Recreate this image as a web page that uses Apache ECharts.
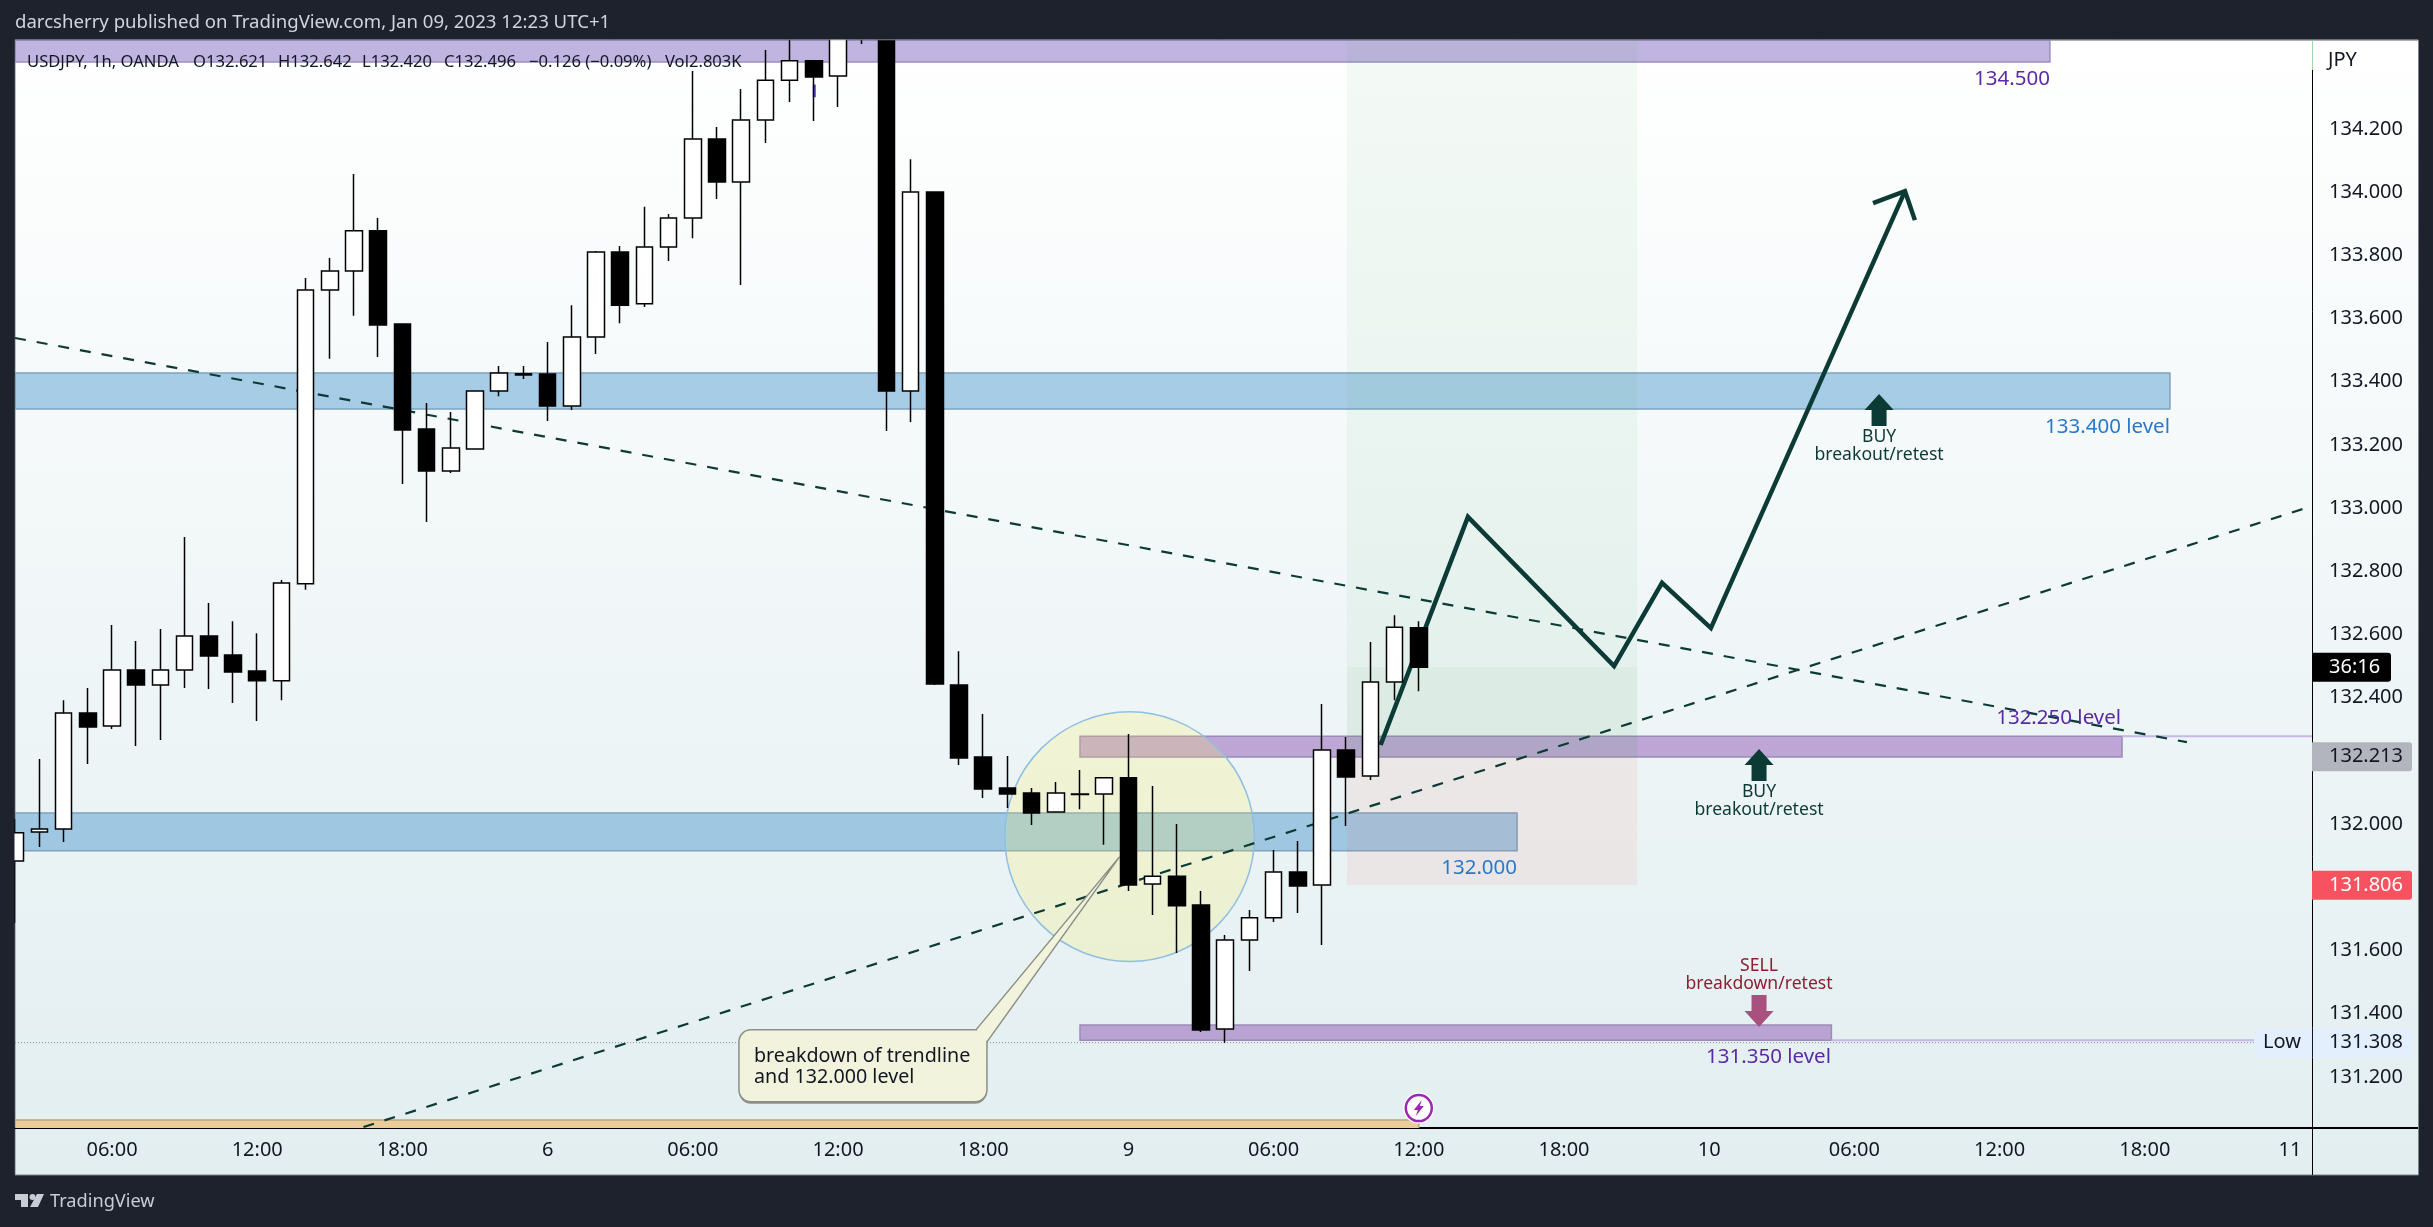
<!DOCTYPE html>
<html>
<head>
<meta charset="utf-8">
<title>USDJPY 1h</title>
<script src="https://cdn.jsdelivr.net/npm/echarts@6/dist/echarts.min.js"></script>
<style>
    html, body { margin: 0; padding: 0; background: #1e222d; }
    #chart { width: 2433px; height: 1227px; }
</style>
</head>
<body>
<div id="chart"></div>
<script>
// candles, one per hour, x is the bar number counted from Jan 5 00:00
const firstBar = 2;
const opens = [131.883, 131.975, 131.984, 132.351, 132.310, 132.487, 132.440, 132.487, 132.595, 132.535, 132.484, 132.453, 132.760, 133.690, 133.750, 133.877, 133.582, 133.250, 133.117, 133.187, 133.370, 133.425, 133.424, 133.323, 133.541, 133.810, 133.646, 133.826, 133.918, 134.168, 134.032, 134.228, 134.354, 134.415, 134.367, 134.600, 134.580, 133.370, 134.000, 132.440, 132.212, 132.114, 132.098, 132.038, 132.095, 132.095, 132.146, 131.810, 131.835, 131.744, 131.351, 131.633, 131.703, 131.848, 131.807, 132.234, 132.152, 132.449, 132.621];
const closes = [131.972, 131.984, 132.351, 132.307, 132.487, 132.440, 132.487, 132.595, 132.532, 132.481, 132.453, 132.763, 133.690, 133.750, 133.877, 133.579, 133.247, 133.117, 133.190, 133.370, 133.427, 133.421, 133.323, 133.541, 133.810, 133.642, 133.826, 133.918, 134.168, 134.032, 134.228, 134.354, 134.415, 134.364, 134.540, 134.540, 133.370, 134.000, 132.443, 132.209, 132.111, 132.095, 132.035, 132.098, 132.093, 132.146, 131.807, 131.835, 131.741, 131.348, 131.633, 131.703, 131.848, 131.804, 132.234, 132.149, 132.449, 132.623, 132.496];
const lows = [131.687, 131.927, 131.943, 132.190, 132.301, 132.247, 132.266, 132.430, 132.427, 132.383, 132.326, 132.392, 132.741, 133.472, 133.608, 133.478, 133.076, 132.956, 133.111, 133.187, 133.354, 133.408, 133.275, 133.310, 133.487, 133.585, 133.636, 133.782, 133.854, 133.978, 133.706, 134.155, 134.285, 134.225, 134.269, 134.468, 133.244, 133.272, 132.440, 132.187, 132.082, 132.051, 131.997, 132.038, 132.047, 131.934, 131.788, 131.712, 131.592, 131.342, 131.308, 131.535, 131.690, 131.718, 131.617, 131.994, 132.139, 132.392, 132.420];
const highs = [132.016, 132.206, 132.392, 132.430, 132.630, 132.579, 132.617, 132.908, 132.699, 132.642, 132.604, 132.772, 133.728, 133.791, 134.057, 133.918, 133.582, 133.332, 133.304, 133.373, 133.449, 133.449, 133.525, 133.642, 133.813, 133.829, 133.953, 133.930, 134.383, 134.206, 134.326, 134.449, 134.500, 134.418, 134.600, 134.660, 134.600, 134.104, 134.000, 132.547, 132.348, 132.215, 132.114, 132.133, 132.171, 132.149, 132.285, 132.120, 132.000, 131.788, 131.649, 131.728, 131.918, 131.946, 132.380, 132.275, 132.576, 132.661, 132.642];

// axes
const xMin = 1.99;
const xMax = 96.91;
const yMin = 131.038;
const yMax = 134.481;
const xTickValues = [6, 12, 18, 24, 30, 36, 42, 48, 54, 60, 66, 72, 78, 84, 90, 96];
const xTickLabels = ['06:00', '12:00', '18:00', '6', '06:00', '12:00', '18:00', '9', '06:00', '12:00', '18:00', '10', '06:00', '12:00', '18:00', '11'];
const yTickValues = [131.2, 131.4, 131.6, 132.0, 132.4, 132.6, 132.8, 133.0, 133.2, 133.4, 133.6, 133.8, 134.0, 134.2];

// drawings on the chart: [barFrom, barTo, priceTop, priceBottom]
const blueZones = [[xMin, 91.04, 133.427, 133.313], [xMin, 64.06, 132.035, 131.915]];
const topZones = [[xMin, 86.08, 134.500, 134.411]];
const lowerZones = [[46.0, 89.06, 132.278, 132.212], [46.0, 77.05, 131.364, 131.316]];
const orangeZones = [[xMin, 60.0, 131.063, 131.030]];
const profitZones = [[57.03, 69.02, 134.481, 132.212]];
const entryZones = [[57.03, 69.02, 132.496, 132.212]];
const stopZones = [[57.03, 69.02, 132.212, 131.807]];
// [barFrom, barTo, price]
const thinLevels = [[89.06, xMax, 132.278], [77.05, 94.51, 131.316]];
const lowLine = [[xMin, 94.51, 131.308]];
// [bar, price]
const fallingTrend = [[1.99, 133.538], [91.74, 132.259]];
const risingTrend = [[16.39, 131.041], [96.91, 133.006]];
const forecastPath = [[58.42, 132.250], [62.03, 132.972], [68.07, 132.500], [70.05, 132.763], [72.07, 132.620], [80.09, 134.003]];
const forecastHead = [[78.77, 133.965], [80.09, 134.003], [80.50, 133.911]];
const circleCentre = [48.05, 131.960];
const circleRadiusBars = 5.157;
const calloutTip = [47.63, 131.896];
const iconPoint = [60.0, 131.101];
const smallMark = [[35.02, 134.340], [35.02, 134.300]];
// [text, bar, price]
const purpleLabels = [['134.500', 86.08, 134.358], ['132.250 level', 89.02, 132.335], ['131.350 level', 77.03, 131.263]];
const blueLabels = [['133.400 level', 91.04, 133.256], ['132.000', 64.06, 131.861]];
// [bar, price of the arrow tip]
const buyArrows = [[74.06, 132.237], [79.02, 133.361]];
const sellArrows = [[74.06, 131.358]];

const calloutLines = ['breakdown of trendline', 'and 132.000 level'];
const titleText = 'darcsherry published on TradingView.com, Jan 09, 2023 12:23 UTC+1';
const legendParts = ['USDJPY, 1h, OANDA', 'O132.621', 'H132.642', 'L132.420', 'C132.496', '\u22120.126 (\u22120.09%)', 'Vol2.803K'];

const clockPrice = 132.496;
const clockText = '36:16';
const prevClose = 132.213;
const lastPrice = 131.806;
const lowPrice = 131.308;

const FONT = '"Noto Sans", sans-serif';
const INK = '#131722';
const DARK_GREEN = '#0c3b36';
const FRAME = '#1e222d';
const LEGEND_X = [27, 193, 278, 362, 444, 529, 665];

let chart = echarts.init(document.getElementById('chart'));

// every layer gets its rows through the same small wrapper
function layer(rows, z, draw, clip) {
    return {
        type: 'custom',
        coordinateSystem: 'cartesian2d',
        clip: clip !== false,
        z: z,
        silent: true,
        data: rows.map((r, i) => [i]),
        encode: {},
        renderItem: function (params, api) {
            return draw(rows[params.dataIndex], api);
        }
    };
}

function zoneLayer(rows, z, fill, stroke) {
    return layer(rows, z, function (r, api) {
        let a = api.coord([r[0], r[2]]);
        let b = api.coord([r[1], r[3]]);
        return {
            type: 'rect',
            shape: { x: a[0], y: a[1], width: b[0] - a[0], height: b[1] - a[1] },
            style: { fill: fill, stroke: stroke, lineWidth: stroke ? 1.5 : 0 }
        };
    });
}

function levelLayer(rows, z, color, width, dash) {
    return layer(rows, z, function (r, api) {
        let a = api.coord([r[0], r[2]]);
        let b = api.coord([r[1], r[2]]);
        return {
            type: 'line',
            shape: { x1: a[0], y1: a[1], x2: b[0], y2: b[1] },
            style: { stroke: color, lineWidth: width, lineDash: dash || null }
        };
    });
}

function pathLayer(points, z, color, width, dash) {
    return layer([points], z, function (pts, api) {
        return {
            type: 'polyline',
            shape: { points: pts.map(p => api.coord(p)) },
            style: { stroke: color, lineWidth: width, fill: null, lineDash: dash || null, lineJoin: 'miter' }
        };
    });
}

function labelLayer(rows, color) {
    return layer(rows, 12, function (r, api) {
        let p = api.coord([r[1], r[2]]);
        return {
            type: 'text',
            style: { text: r[0], x: p[0], y: p[1], fill: color, font: '20.5px ' + FONT, textAlign: 'right', textVerticalAlign: 'middle' }
        };
    });
}

// dir 1 points up with the text below, dir -1 points down with the text above
function arrowLayer(rows, dir, color, textColor, lines, textOffsets) {
    return layer(rows, 12, function (r, api) {
        let t = api.coord(r);
        let pts = [[0, 0], [14.5, 16], [7.5, 16], [7.5, 32], [-7.5, 32], [-7.5, 16], [-14.5, 16]];
        return {
            type: 'group',
            children: [{
                type: 'polygon',
                shape: { points: pts.map(q => [t[0] + q[0], t[1] + q[1] * dir]) },
                style: { fill: color }
            }, {
                type: 'text',
                style: { text: lines[0], x: t[0], y: t[1] + textOffsets[0], fill: textColor, font: '17.6px ' + FONT, textAlign: 'center', textVerticalAlign: 'middle' }
            }, {
                type: 'text',
                style: { text: lines[1], x: t[0], y: t[1] + textOffsets[1], fill: textColor, font: '17.6px ' + FONT, textAlign: 'center', textVerticalAlign: 'middle' }
            }]
        };
    });
}

// right axis price tags, placed from the same y scale as the candles
function badgeLayer(rows, z) {
    return layer(rows, z, function (r, api) {
        let y = api.coord([xMax, r.price])[1];
        let x = api.coord([xMax, r.price])[0];
        return {
            type: 'group',
            children: [{
                type: 'rect',
                shape: { x: x, y: y - 14.5, width: r.width, height: 29, r: [0, 3, 3, 0] },
                style: { fill: r.bg }
            }, {
                type: 'text',
                style: { text: r.text, x: x + 17, y: y, fill: r.fg, font: '20px ' + FONT, textAlign: 'left', textVerticalAlign: 'middle' }
            }]
        };
    }, false);
}

const lowTagLayer = layer([lowPrice], 21, function (price, api) {
    let p = api.coord([xMax, price]);
    let x = p[0];
    return {
        type: 'group',
        children: [{
            type: 'rect',
            shape: { x: x - 57, y: p[1] - 15, width: 157, height: 30 },
            style: { fill: '#e3effd' }
        }, {
            type: 'line',
            shape: { x1: x + 0.5, y1: p[1] - 15, x2: x + 0.5, y2: p[1] + 15 },
            style: { stroke: '#131722', lineWidth: 1 }
        }, {
            type: 'text',
            style: { text: 'Low', x: x - 30, y: p[1], fill: INK, font: '20px ' + FONT, textAlign: 'center', textVerticalAlign: 'middle' }
        }, {
            type: 'text',
            style: { text: price.toFixed(3), x: x + 17, y: p[1], fill: INK, font: '20px ' + FONT, textAlign: 'left', textVerticalAlign: 'middle' }
        }]
    };
}, false);

const circleLayer = layer([circleCentre], 6, function (c, api) {
    let p = api.coord(c);
    let r = api.size([circleRadiusBars, 0])[0];
    return {
        type: 'circle',
        shape: { cx: p[0], cy: p[1], r: r },
        style: { fill: 'rgba(255,240,80,0.2)', stroke: '#8fbfe3', lineWidth: 1.5 }
    };
});

const calloutLayer = layer([calloutTip], 7, function (c, api) {
    let t = api.coord(c);
    // box is kept in pixels from the tip, it does not scale with the data
    let bx = t[0] - 380.5, by = t[1] + 173, bw = 248, bh = 72;
    let base1 = [bx + 237, by], base2 = [bx + bw, by + 12];
    return {
        type: 'group',
        children: [{
            type: 'rect',
            shape: { x: bx, y: by + 2, width: bw, height: bh, r: 12 },
            style: { fill: '#8d9090' }
        }, {
            type: 'rect',
            shape: { x: bx, y: by, width: bw, height: bh, r: 12 },
            style: { fill: '#f1f3dc', stroke: '#8d8f85', lineWidth: 1.5 }
        }, {
            type: 'polygon',
            shape: { points: [base1, t, base2, [bx + bw - 4, by + 6]] },
            style: { fill: '#f1f3dc' }
        }, {
            type: 'polyline',
            shape: { points: [base1, t, base2] },
            style: { stroke: '#8d8f85', lineWidth: 1.5, fill: null }
        }, {
            type: 'text',
            style: { text: calloutLines[0], x: bx + 15, y: by + 26.5, fill: INK, font: '19.7px ' + FONT, textAlign: 'left', textVerticalAlign: 'middle' }
        }, {
            type: 'text',
            style: { text: calloutLines[1], x: bx + 15, y: by + 47.5, fill: INK, font: '19.7px ' + FONT, textAlign: 'left', textVerticalAlign: 'middle' }
        }]
    };
});

const iconLayer = layer([iconPoint], 12, function (c, api) {
    let p = api.coord(c);
    let bolt = [[3, -8], [-5, 2], [-1, 2], [-3, 8], [5, -2], [1, -2]];
    return {
        type: 'group',
        children: [{
            type: 'circle',
            shape: { cx: p[0], cy: p[1], r: 15.5 },
            style: { fill: '#ffffff' }
        }, {
            type: 'circle',
            shape: { cx: p[0], cy: p[1], r: 13 },
            style: { fill: '#ffffff', stroke: '#9c27b0', lineWidth: 2.5 }
        }, {
            type: 'polygon',
            shape: { points: bolt.map(q => [p[0] + q[0], p[1] + q[1]]) },
            style: { fill: '#9c27b0' }
        }]
    };
}, false);

const legendElements = legendParts.map((text, i) => ({
    type: 'text',
    z: 30,
    style: { text: text, x: LEGEND_X[i], y: 62, fill: INK, font: '16.6px ' + FONT, textVerticalAlign: 'middle' }
}));

const option = {
    animation: false,
    backgroundColor: FRAME,
    textStyle: { fontFamily: FONT },
    grid: { left: 15, right: 121, top: 40, bottom: 99, containLabel: false },
    xAxis: {
        type: 'value',
        min: xMin,
        max: xMax,
        axisLine: { show: true, onZero: false, lineStyle: { color: '#000000', width: 2 } },
        axisTick: { show: false },
        splitLine: { show: false },
        axisLabel: {
            customValues: xTickValues,
            formatter: v => xTickLabels[xTickValues.indexOf(v)],
            color: INK,
            fontFamily: FONT,
            fontSize: 20,
            margin: 12
        }
    },
    yAxis: {
        type: 'value',
        position: 'right',
        min: yMin,
        max: yMax,
        axisLine: { show: true, onZero: false, lineStyle: { color: '#000000', width: 1 } },
        axisTick: { show: false },
        splitLine: { show: false },
        axisLabel: {
            customValues: yTickValues,
            formatter: v => v.toFixed(3),
            color: INK,
            fontFamily: FONT,
            fontSize: 20,
            margin: 17
        }
    },
    graphic: {
        elements: [{
            type: 'rect',
            z: -10,
            shape: { x: 15, y: 40, width: 2403.5, height: 1135 },
            style: {
                fill: new echarts.graphic.LinearGradient(0, 0, 0, 1, [
                    { offset: 0, color: '#ffffff' },
                    { offset: 1, color: '#e2eef0' }
                ]),
                stroke: '#7d828e',
                lineWidth: 1
            }
        }, {
            // candles are not cut at the grid edge by the library, the frame covers what sticks out
            type: 'rect',
            z: 25,
            shape: { x: 0, y: 0, width: 2433, height: 39.5 },
            style: { fill: FRAME }
        }, {
            type: 'rect',
            z: 25,
            shape: { x: 0, y: 0, width: 14.5, height: 1227 },
            style: { fill: FRAME }
        }, {
            type: 'line',
            z: 26,
            shape: { x1: 15, y1: 39.75, x2: 2418, y2: 39.75 },
            style: { stroke: '#7d828e', lineWidth: 1 }
        }, {
            type: 'line',
            z: 5,
            shape: { x1: 2312, y1: 1128, x2: 2418, y2: 1128 },
            style: { stroke: '#000000', lineWidth: 2 }
        }, {
            type: 'line',
            z: 5,
            shape: { x1: 2312.5, y1: 1128, x2: 2312.5, y2: 1175 },
            style: { stroke: '#000000', lineWidth: 1 }
        }, {
            type: 'line',
            z: 5,
            shape: { x1: 2312.5, y1: 40, x2: 2312.5, y2: 70 },
            style: { stroke: '#9ad9a4', lineWidth: 1 }
        }, {
            type: 'text',
            z: 30,
            style: { text: titleText, x: 15, y: 23, fill: '#d1d4dc', font: '18.6px ' + FONT, textVerticalAlign: 'middle' }
        }, {
            type: 'text',
            z: 30,
            style: { text: 'JPY', x: 2328, y: 60, fill: INK, font: '20px ' + FONT, textVerticalAlign: 'middle' }
        }, {
            type: 'text',
            z: 30,
            style: { text: 'TradingView', x: 50, y: 1202, fill: '#c9ccd4', font: '18.2px ' + FONT, textVerticalAlign: 'middle' }
        }, {
            type: 'polygon',
            z: 30,
            shape: { points: [[15, 1194], [28, 1194], [28, 1207], [21, 1207], [21, 1200], [15, 1200]] },
            style: { fill: '#c9ccd4' }
        }, {
            type: 'circle',
            z: 30,
            shape: { cx: 32.5, cy: 1197, r: 3 },
            style: { fill: '#c9ccd4' }
        }, {
            type: 'polygon',
            z: 30,
            shape: { points: [[37, 1194], [44, 1194], [38, 1207], [30, 1207]] },
            style: { fill: '#c9ccd4' }
        }].concat(legendElements)
    },
    series: [
        zoneLayer(blueZones, 3, 'rgba(32,125,192,0.37)', '#7fa2bd'),
        zoneLayer(topZones, 3, 'rgba(97,67,177,0.4)', '#9a8fc0'),
        zoneLayer(lowerZones, 3, 'rgba(121,48,164,0.4)', '#9c8ab8'),
        zoneLayer(orangeZones, 3, '#eccd9a', '#b8a97e'),
        levelLayer(thinLevels, 3, '#c7b7e6', 2),
        levelLayer(lowLine, 3, '#7d8b90', 1, [1, 2]),
        zoneLayer(profitZones, 4, 'rgba(76,175,80,0.06)', null),
        zoneLayer(entryZones, 4, 'rgba(76,175,80,0.05)', null),
        zoneLayer(stopZones, 4, 'rgba(244,67,54,0.07)', null),
        circleLayer,
        pathLayer(fallingTrend, 7, DARK_GREEN, 2.2, [11, 11]),
        pathLayer(risingTrend, 7, DARK_GREEN, 2.2, [11, 11]),
        pathLayer(forecastPath, 7, DARK_GREEN, 4.5),
        pathLayer(forecastHead, 7, DARK_GREEN, 4.5),
        pathLayer(smallMark, 7, '#5a3fc0', 3),
        calloutLayer,
        {
            type: 'candlestick',
            z: 10,
            silent: true,
            barWidth: 17,
            encode: { x: 0, y: [1, 2, 3, 4] },
            itemStyle: {
                color: '#ffffff',
                color0: '#000000',
                borderColor: '#000000',
                borderColor0: '#000000',
                borderWidth: 1.5
            },
            data: opens.map((o, i) => [firstBar + i, o, closes[i], lows[i], highs[i]])
        },
        labelLayer(purpleLabels, '#5a2aa6'),
        labelLayer(blueLabels, '#2a78c8'),
        arrowLayer(buyArrows, 1, DARK_GREEN, DARK_GREEN, ['BUY', 'breakout/retest'], [43, 61]),
        arrowLayer(sellArrows, -1, '#a8507e', '#8c1f33', ['SELL', 'breakdown/retest'], [-61, -43]),
        iconLayer,
        badgeLayer([{ price: clockPrice, text: clockText, bg: '#000000', fg: '#ffffff', width: 79 }], 20),
        badgeLayer([{ price: prevClose, text: prevClose.toFixed(3), bg: '#b2b5be', fg: INK, width: 100 }], 20),
        badgeLayer([{ price: lastPrice, text: lastPrice.toFixed(3), bg: '#f7525f', fg: '#ffffff', width: 100 }], 20),
        lowTagLayer
    ]
};

chart.setOption(option);
</script>
</body>
</html>
